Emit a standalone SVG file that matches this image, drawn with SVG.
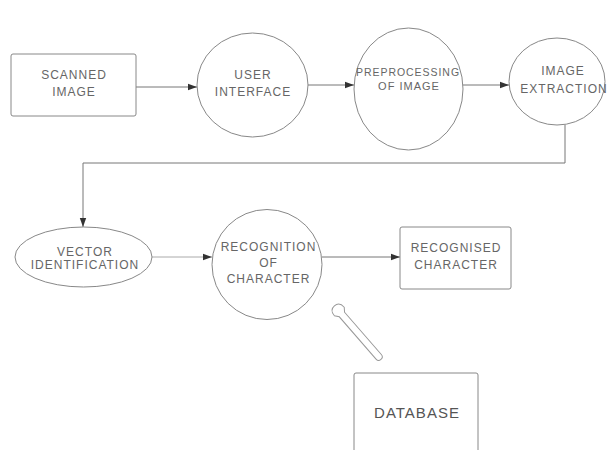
<svg xmlns="http://www.w3.org/2000/svg" width="608" height="450" viewBox="0 0 608 450">
<defs>
<marker id="ah" markerWidth="10" markerHeight="8" refX="9" refY="4" orient="auto" markerUnits="userSpaceOnUse">
<path d="M0,0.8 L9,4 L0,7.2 Z" fill="#333"/>
</marker>
<style>
.shape{fill:#fff;stroke:#888;stroke-width:1}
.t{font-family:"Liberation Sans",Arial,sans-serif;font-size:12px;letter-spacing:1px;fill:#666;text-anchor:middle}
.s11{font-size:11px}
.big{font-size:15px;fill:#555}
.c{fill:none;stroke:#777;stroke-width:1}
</style>
</defs>
<rect width="608" height="450" fill="#fff"/>
<g id="connectors">
<line class="c" x1="136" y1="87" x2="197" y2="87" marker-end="url(#ah)"/>
<line class="c" x1="308" y1="85" x2="354" y2="85" marker-end="url(#ah)"/>
<line class="c" x1="463" y1="85" x2="509" y2="85" marker-end="url(#ah)"/>
<polyline class="c" points="565,125 565,163 83,163 83,227" marker-end="url(#ah)"/>
<line class="c" x1="152" y1="257" x2="212" y2="257" style="stroke:#aaa" marker-end="url(#ah)"/>
<line class="c" x1="322" y1="257" x2="400" y2="257" marker-end="url(#ah)"/>
<path class="shape" transform="translate(338,310) rotate(49)" d="M6,-3.5 L62,-3.5 A3.5 3.5 0 0 1 62,3.5 L6,3.5 L2,6.5 Q-5.5,6.5 -5.5,0 Q-5.5,-6.5 2,-6.5 Z" style="stroke:#999"/>
</g>
<g id="scanned">
<rect class="shape" x="11" y="54" width="125" height="62" rx="2"/>
<text class="t" x="74" y="79">SCANNED</text>
<text class="t" x="74" y="96">IMAGE</text>
</g>
<g id="user">
<ellipse class="shape" cx="252.5" cy="85" rx="55.5" ry="52"/>
<text class="t" x="253" y="79">USER</text>
<text class="t" x="253" y="96">INTERFACE</text>
</g>
<g id="preprocessing">
<ellipse class="shape" cx="408.5" cy="89" rx="54.5" ry="61"/>
<text class="t s11" x="408" y="76" textLength="104" lengthAdjust="spacingAndGlyphs">PREPROCESSING</text>
<text class="t s11" x="409" y="90">OF IMAGE</text>
</g>
<g id="extraction">
<ellipse class="shape" cx="557" cy="81.5" rx="48" ry="43.5"/>
<text class="t" x="563" y="75">IMAGE</text>
<text class="t" x="564" y="93">EXTRACTION</text>
</g>
<g id="vector">
<ellipse class="shape" cx="83.5" cy="257" rx="68.5" ry="30"/>
<text class="t" x="85" y="256">VECTOR</text>
<text class="t" x="85" y="269">IDENTIFICATION</text>
</g>
<g id="recognition">
<circle class="shape" cx="267" cy="264.5" r="55"/>
<text class="t" x="268.5" y="251">RECOGNITION</text>
<text class="t" x="268.5" y="267">OF</text>
<text class="t" x="268.5" y="283">CHARACTER</text>
</g>
<g id="recognised">
<rect class="shape" x="400" y="227" width="111" height="62" rx="2"/>
<text class="t" x="456" y="252">RECOGNISED</text>
<text class="t" x="456" y="269">CHARACTER</text>
</g>
<g id="database">
<rect class="shape" x="354" y="373" width="124" height="90" rx="2"/>
<text class="t big" x="417" y="418">DATABASE</text>
</g>
</svg>
